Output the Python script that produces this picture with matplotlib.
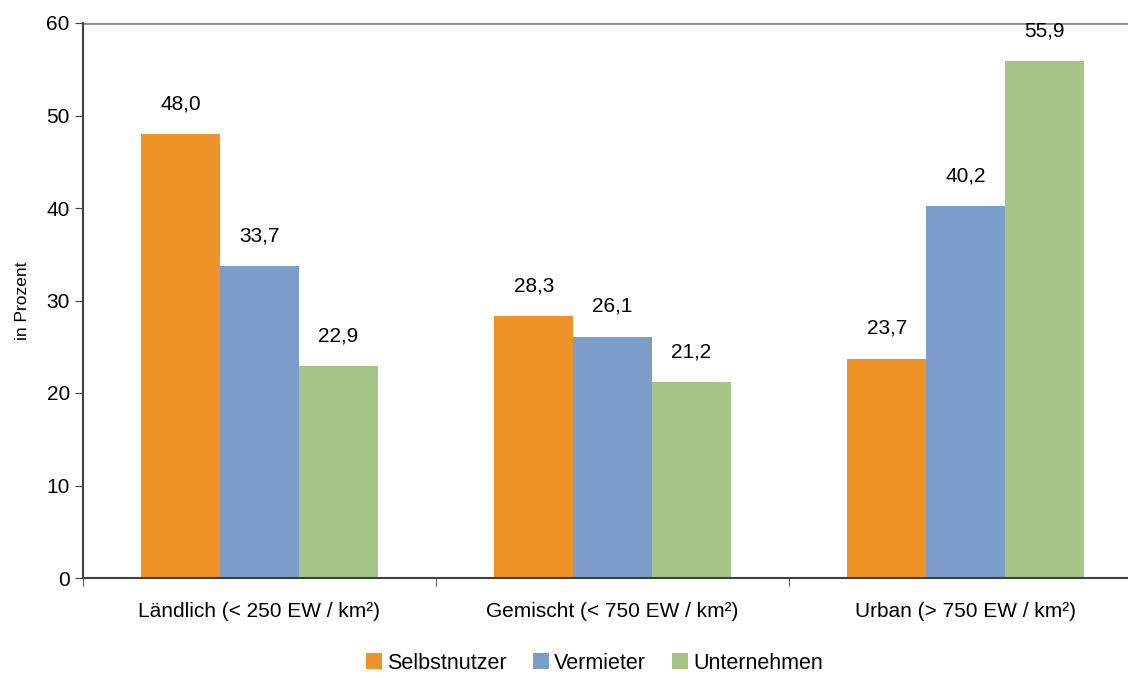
import matplotlib.pyplot as plt
import numpy as np

plt.rcParams['font.family'] = ['Liberation Sans', 'DejaVu Sans']

categories = ['Ländlich (< 250 EW / km²)', 'Gemischt (< 750 EW / km²)', 'Urban (> 750 EW / km²)']
series = ['Selbstnutzer', 'Vermieter', 'Unternehmen']
selbstnutzer = [48.0, 28.3, 23.7]
vermieter = [33.7, 26.1, 40.2]
unternehmen = [22.9, 21.2, 55.9]
colors = ['#ED9328', '#7C9DC9', '#A4C585']

fig = plt.figure(figsize=(11.28, 6.78), dpi=100)
# axes extends a bit past the right edge, like the original
ax = fig.add_axes([83 / 1128, 100 / 678, (1142 - 83) / 1128, (578 - 23) / 678])

x = np.arange(len(categories))
w = 0.223
values = [selbstnutzer, vermieter, unternehmen]
for i, (name, vals) in enumerate(zip(series, values)):
    bars = ax.bar(x + (i - 1) * w, vals, w, color=colors[i], label=name)
    for b, v in zip(bars, vals):
        ax.annotate(f'{v:.1f}'.replace('.', ','), (b.get_x() + b.get_width() / 2, v),
                    xytext=(0, 15), textcoords='offset points', ha='center', va='bottom',
                    fontsize=15)

ax.set_xlim(-0.5, 2.5)
ax.set_ylim(0, 60)
ax.set_yticks(range(0, 61, 10))
ax.set_xticks(x)
ax.set_xticklabels(categories)
ax.set_xticks([-0.5, 0.5, 1.5, 2.5], minor=True)
ax.tick_params(axis='x', which='major', length=0, pad=17, labelsize=15)
ax.tick_params(axis='x', which='minor', length=6, color='#404040')
ax.tick_params(axis='y', length=6, color='#404040', labelsize=15)
ax.set_ylabel('in Prozent', fontsize=12.5, labelpad=12)

ax.axhline(60, color='#8c8c8c', lw=2)
for s in ['top', 'right']:
    ax.spines[s].set_visible(False)
ax.spines['left'].set_color('#404040')
ax.spines['left'].set_linewidth(1.5)
ax.spines['bottom'].set_color('#404040')
ax.spines['bottom'].set_linewidth(1.5)

fig.legend(loc='lower center', bbox_to_anchor=(0.527, -0.022), ncol=3, frameon=False,
           fontsize=15.5, handlelength=0.75, handleheight=0.75, handletextpad=0.25,
           columnspacing=1.2)

fig.savefig('out.png', dpi=100)
